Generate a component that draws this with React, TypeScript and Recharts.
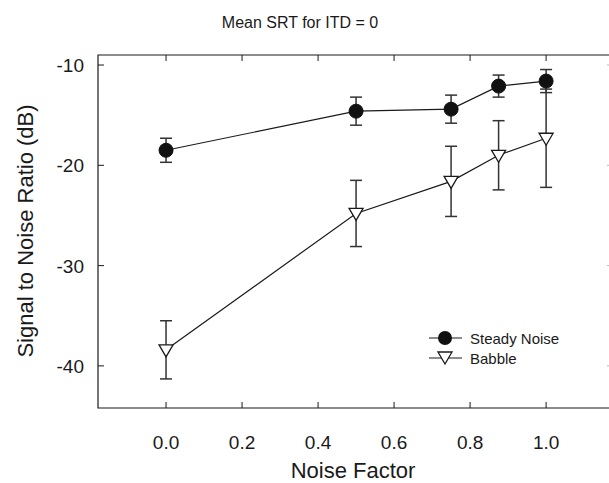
import {
  ComposedChart,
  Line,
  XAxis,
  YAxis,
  ErrorBar,
  ReferenceArea,
  Legend,
  Label,
} from "recharts";

const noiseFactor = [0, 0.5, 0.75, 0.875, 1.0];
const steadyNoise = [-18.5, -14.6, -14.4, -12.1, -11.6];
const steadyNoiseErr = [1.2, 1.4, 1.4, 1.1, 1.15];
const babble = [-38.4, -24.8, -21.6, -19.0, -17.3];
const babbleErr = [2.9, 3.3, 3.5, 3.45, 4.9];

const xTicks = [0, 0.2, 0.4, 0.6, 0.8, 1.0];
const yTicks = [-40, -30, -20, -10];
const xDomain: [number, number] = [-0.179, 1.176];
const yDomain: [number, number] = [-44.2, -9];

const data = noiseFactor.map((x, i) => ({
  x,
  steady: steadyNoise[i],
  steadyErr: steadyNoiseErr[i],
  babble: babble[i],
  babbleErr: babbleErr[i],
}));

// plot box in pixels, follows from the margins below (right side runs past the page edge)
const PLOT = { left: 98, top: 55, right: 613, bottom: 408 };
const ink = "#1a1a1a";
const TICK = 6;

function XTick({ x, payload }: any) {
  return (
    <g>
      <line x1={x} x2={x} y1={PLOT.bottom} y2={PLOT.bottom - TICK} stroke={ink} />
      <line x1={x} x2={x} y1={PLOT.top} y2={PLOT.top + TICK} stroke={ink} />
      <text x={x} y={PLOT.bottom + 41} textAnchor="middle" fontSize={19} fill={ink}>
        {Number(payload.value).toFixed(1)}
      </text>
    </g>
  );
}

function YTick({ y, payload }: any) {
  return (
    <g>
      <line x1={PLOT.left} x2={PLOT.left + TICK} y1={y} y2={y} stroke={ink} />
      <line x1={PLOT.right} x2={PLOT.right - TICK} y1={y} y2={y} stroke="#bbb" />
      <text x={84} y={y + 7} textAnchor="end" fontSize={19} fill={ink}>
        {payload.value}
      </text>
    </g>
  );
}

function CircleDot({ cx, cy }: any) {
  return <circle cx={cx} cy={cy} r={7} fill="#111" stroke="#111" />;
}

function triPath(cx: number, cy: number) {
  return `M${cx - 7},${cy - 5} L${cx + 7},${cy - 5} L${cx},${cy + 7} Z`;
}

function TriangleDot({ cx, cy }: any) {
  return <path d={triPath(cx, cy)} fill="#fff" stroke={ink} strokeWidth={1.3} />;
}

function renderLegend() {
  const items = [
    { name: "Steady Noise", marker: "circle" },
    { name: "Babble", marker: "triangle" },
  ];
  return (
    <div>
      {items.map((it) => (
        <div key={it.name} style={{ display: "flex", alignItems: "center", height: 20 }}>
          <svg width={34} height={20}>
            <line x1={1} x2={34} y1={10} y2={10} stroke={ink} strokeWidth={1.2} />
            {it.marker === "circle" ? (
              <circle cx={17} cy={10} r={7} fill="#111" />
            ) : (
              <path d={triPath(17, 9)} fill="#fff" stroke={ink} strokeWidth={1.3} />
            )}
          </svg>
          <span style={{ marginLeft: 8, fontSize: 15, color: ink }}>{it.name}</span>
        </div>
      ))}
    </div>
  );
}

export default function App() {
  return (
    <div
      style={{
        position: "absolute",
        left: 0,
        top: 0,
        width: 609,
        height: 483,
        overflow: "hidden",
        background: "#fff",
        fontFamily: "'Liberation Sans', Arial, sans-serif",
      }}
    >
      <ComposedChart
        width={613}
        height={483}
        data={data}
        margin={{ top: 55, right: 0, bottom: 0, left: 0 }}
      >
        <XAxis
          dataKey="x"
          type="number"
          domain={xDomain}
          ticks={xTicks}
          allowDataOverflow
          height={75}
          axisLine={false}
          tickLine={false}
          tick={<XTick />}
        >
          <Label
            content={() => (
              <text x={353} y={478} textAnchor="middle" fontSize={22} fill={ink}>
                Noise Factor
              </text>
            )}
          />
          <Label
            content={() => (
              <text x={300} y={28} textAnchor="middle" fontSize={16} fill={ink}>
                Mean SRT for ITD = 0
              </text>
            )}
          />
        </XAxis>
        <YAxis
          type="number"
          domain={yDomain}
          ticks={yTicks}
          allowDataOverflow
          width={98}
          axisLine={false}
          tickLine={false}
          tick={<YTick />}
        >
          <Label
            content={() => (
              <text
                transform={`translate(33, 231) rotate(-90)`}
                textAnchor="middle"
                fontSize={22}
                fill={ink}
              >
                Signal to Noise Ratio (dB)
              </text>
            )}
          />
        </YAxis>
        <ReferenceArea
          x1={xDomain[0]}
          x2={xDomain[1]}
          y1={yDomain[0]}
          y2={yDomain[1]}
          fill="none"
          stroke={ink}
          strokeWidth={1.2}
        />
        <Line
          dataKey="babble"
          name="Babble"
          type="linear"
          stroke={ink}
          strokeWidth={1.2}
          dot={<TriangleDot />}
          activeDot={false}
          isAnimationActive={false}
        >
          <ErrorBar dataKey="babbleErr" direction="y" width={6} stroke="#333" strokeWidth={1.5} />
        </Line>
        <Line
          dataKey="steady"
          name="Steady Noise"
          type="linear"
          stroke={ink}
          strokeWidth={1.2}
          dot={<CircleDot />}
          activeDot={false}
          isAnimationActive={false}
        >
          <ErrorBar dataKey="steadyErr" direction="y" width={6} stroke="#333" strokeWidth={1.5} />
        </Line>
        <Legend
          verticalAlign="middle"
          align="center"
          layout="vertical"
          content={renderLegend}
          wrapperStyle={{ position: "absolute", left: 428, top: 328, width: 170 }}
        />
      </ComposedChart>
    </div>
  );
}
